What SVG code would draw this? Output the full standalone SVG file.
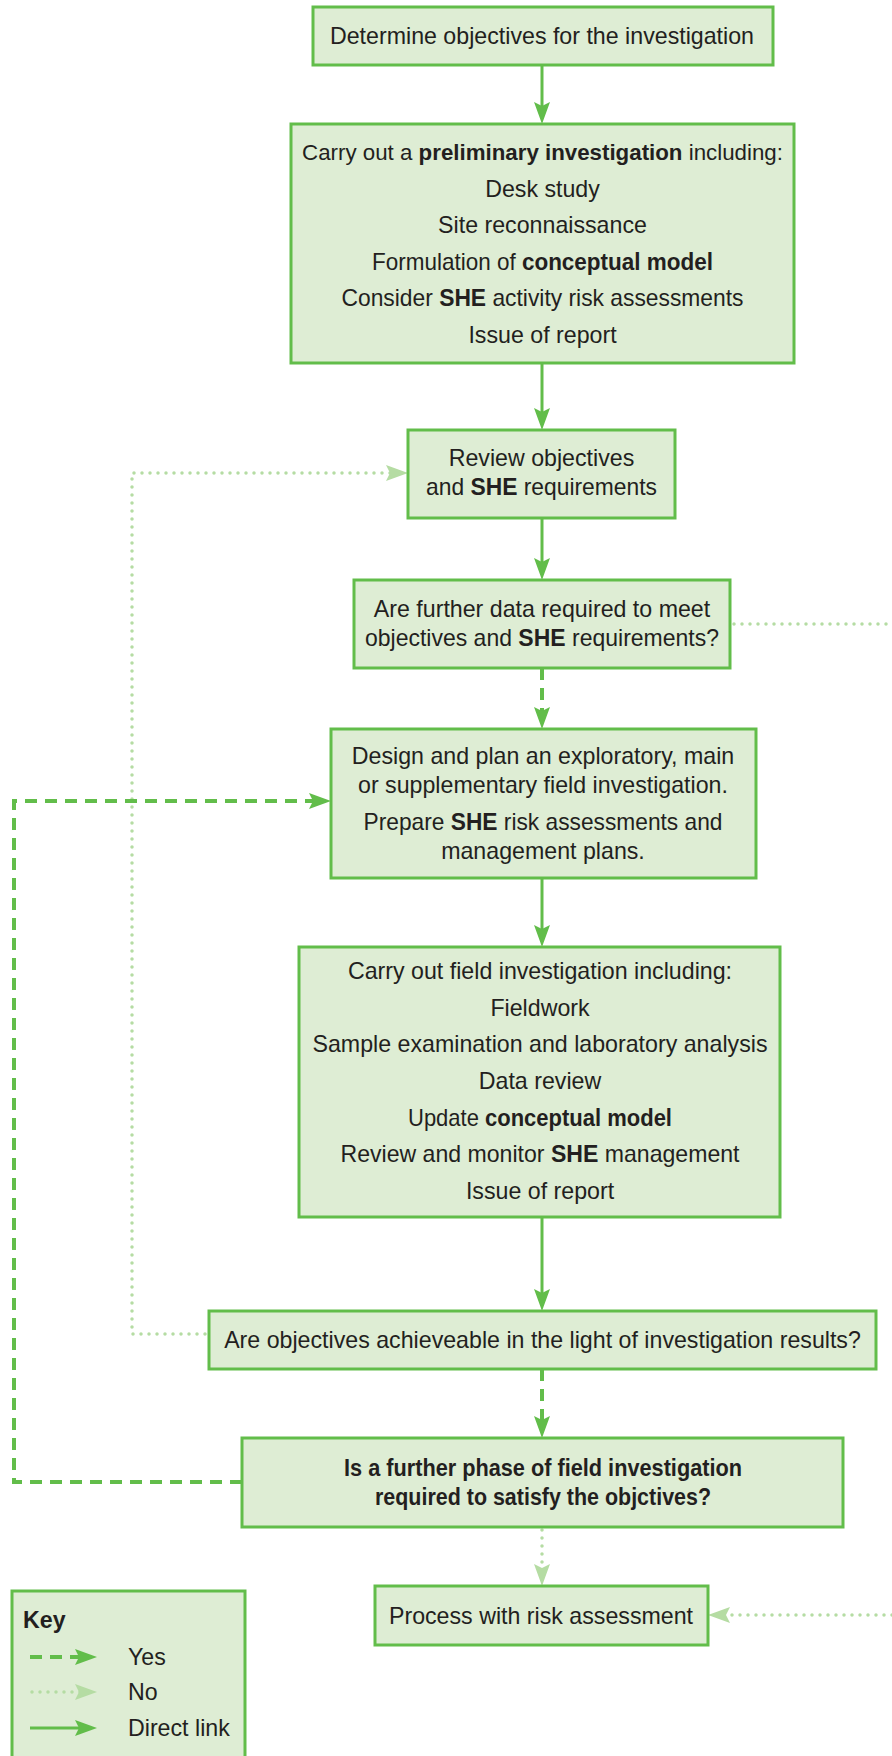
<svg xmlns="http://www.w3.org/2000/svg" width="892" height="1756" viewBox="0 0 892 1756">
<style>
.box{fill:#deedd4;stroke:#62bd4a;stroke-width:3}
.t{font-family:"Liberation Sans",Arial,sans-serif;font-size:23.2px;fill:#231f20;text-anchor:middle}
.l{text-anchor:start}
.b{font-weight:bold}
.solid{stroke:#62bd4a;stroke-width:3;fill:none}
.dash{stroke:#62bd4a;stroke-width:4;stroke-dasharray:12 8;fill:none}
.dot{stroke:#b5dca3;stroke-width:3.5;stroke-dasharray:0 8;stroke-linecap:round;fill:none}
</style>
<defs>
<marker id="ah" markerUnits="userSpaceOnUse" markerWidth="24" markerHeight="18" viewBox="0 0 24 18" refX="16" refY="9" orient="auto"><path d="M0,1 L22,9 L0,17 L4,9 Z" fill="#62bd4a"/></marker>
<marker id="ahl" markerUnits="userSpaceOnUse" markerWidth="24" markerHeight="18" viewBox="0 0 24 18" refX="16" refY="9" orient="auto"><path d="M0,1 L22,9 L0,17 L4,9 Z" fill="#b5dca3"/></marker>
</defs>
<rect width="892" height="1756" fill="#ffffff"/>
<g id="connectors">
<path class="solid" d="M542,65 V118" marker-end="url(#ah)"/>
<path class="solid" d="M542,363 V424" marker-end="url(#ah)"/>
<path class="solid" d="M542,518 V574" marker-end="url(#ah)"/>
<path class="dash" d="M542,668 V723" marker-end="url(#ah)"/>
<path class="solid" d="M542,878 V941" marker-end="url(#ah)"/>
<path class="solid" d="M542,1217 V1305" marker-end="url(#ah)"/>
<path class="dash" d="M542,1369 V1432" marker-end="url(#ah)"/>
<path class="dot" d="M542,1530 V1580" marker-end="url(#ahl)"/>
<path class="dot" d="M205,1334 H132 V473 H402" marker-end="url(#ahl)"/>
<path class="dot" d="M734,624 H892"/>
<path class="dot" d="M892,1615 H714" marker-end="url(#ahl)"/>
<path class="dash" d="M242,1482 H14 V801 H325" marker-end="url(#ah)"/>
</g>
<g id="n1"><rect class="box" x="313" y="7" width="460" height="58"/>
<text class="t" x="542" y="44">Determine objectives for the investigation</text></g>
<g id="n2"><rect class="box" x="291" y="124" width="503" height="239"/>
<text class="t" x="542.5" y="160" style="font-size:22.3px">Carry out a <tspan class="b">preliminary investigation</tspan> including:</text>
<text class="t" x="542.5" y="196.6">Desk study</text>
<text class="t" x="542.5" y="233.2">Site reconnaissance</text>
<text class="t" x="542.5" y="269.8" textLength="341" lengthAdjust="spacingAndGlyphs">Formulation of <tspan class="b">conceptual model</tspan></text>
<text class="t" x="542.5" y="306.4" textLength="402" lengthAdjust="spacingAndGlyphs">Consider <tspan class="b">SHE</tspan> activity risk assessments</text>
<text class="t" x="542.5" y="343">Issue of report</text></g>
<g id="n3"><rect class="box" x="408" y="430" width="267" height="88"/>
<text class="t" x="541.5" y="466">Review objectives</text>
<text class="t" x="541.5" y="495" textLength="231" lengthAdjust="spacingAndGlyphs">and <tspan class="b">SHE</tspan> requirements</text></g>
<g id="n4"><rect class="box" x="354" y="580" width="376" height="88"/>
<text class="t" x="542" y="617">Are further data required to meet</text>
<text class="t" x="542" y="646" textLength="354" lengthAdjust="spacingAndGlyphs">objectives and <tspan class="b">SHE</tspan> requirements?</text></g>
<g id="n5"><rect class="box" x="331" y="729" width="425" height="149"/>
<text class="t" x="543" y="764">Design and plan an exploratory, main</text>
<text class="t" x="543" y="793">or supplementary field investigation.</text>
<text class="t" x="543" y="830" textLength="359" lengthAdjust="spacingAndGlyphs">Prepare <tspan class="b">SHE</tspan> risk assessments and</text>
<text class="t" x="543" y="859">management plans.</text></g>
<g id="n6"><rect class="box" x="299" y="947" width="481" height="270"/>
<text class="t" x="540" y="979">Carry out field investigation including:</text>
<text class="t" x="540" y="1015.5">Fieldwork</text>
<text class="t" x="540" y="1052">Sample examination and laboratory analysis</text>
<text class="t" x="540" y="1089">Data review</text>
<text class="t" x="540" y="1125.5" textLength="264" lengthAdjust="spacingAndGlyphs">Update <tspan class="b">conceptual model</tspan></text>
<text class="t" x="540" y="1162" textLength="399" lengthAdjust="spacingAndGlyphs">Review and monitor <tspan class="b">SHE</tspan> management</text>
<text class="t" x="540" y="1199">Issue of report</text></g>
<g id="n7"><rect class="box" x="209" y="1311" width="667" height="58"/>
<text class="t" x="542.5" y="1348">Are objectives achieveable in the light of investigation results?</text></g>
<g id="n8"><rect class="box" x="242" y="1438" width="601" height="89"/>
<text class="t b" x="543" y="1476" textLength="398" lengthAdjust="spacingAndGlyphs">Is a further phase of field investigation</text>
<text class="t b" x="543" y="1505" textLength="336" lengthAdjust="spacingAndGlyphs">required to satisfy the objctives?</text></g>
<g id="n9"><rect class="box" x="375" y="1586" width="333" height="59"/>
<text class="t" x="541" y="1624">Process with risk assessment</text></g>
<g id="key"><rect class="box" x="12" y="1591" width="233" height="175"/>
<text class="t l b" x="23" y="1628">Key</text>
<path class="dash" d="M30,1657 H91" marker-end="url(#ah)"/>
<path class="dot" d="M32,1692 H91" marker-end="url(#ahl)"/>
<path class="solid" d="M30,1728 H91" marker-end="url(#ah)"/>
<text class="t l" x="128" y="1665">Yes</text>
<text class="t l" x="128" y="1700">No</text>
<text class="t l" x="128" y="1736">Direct link</text></g>
</svg>
